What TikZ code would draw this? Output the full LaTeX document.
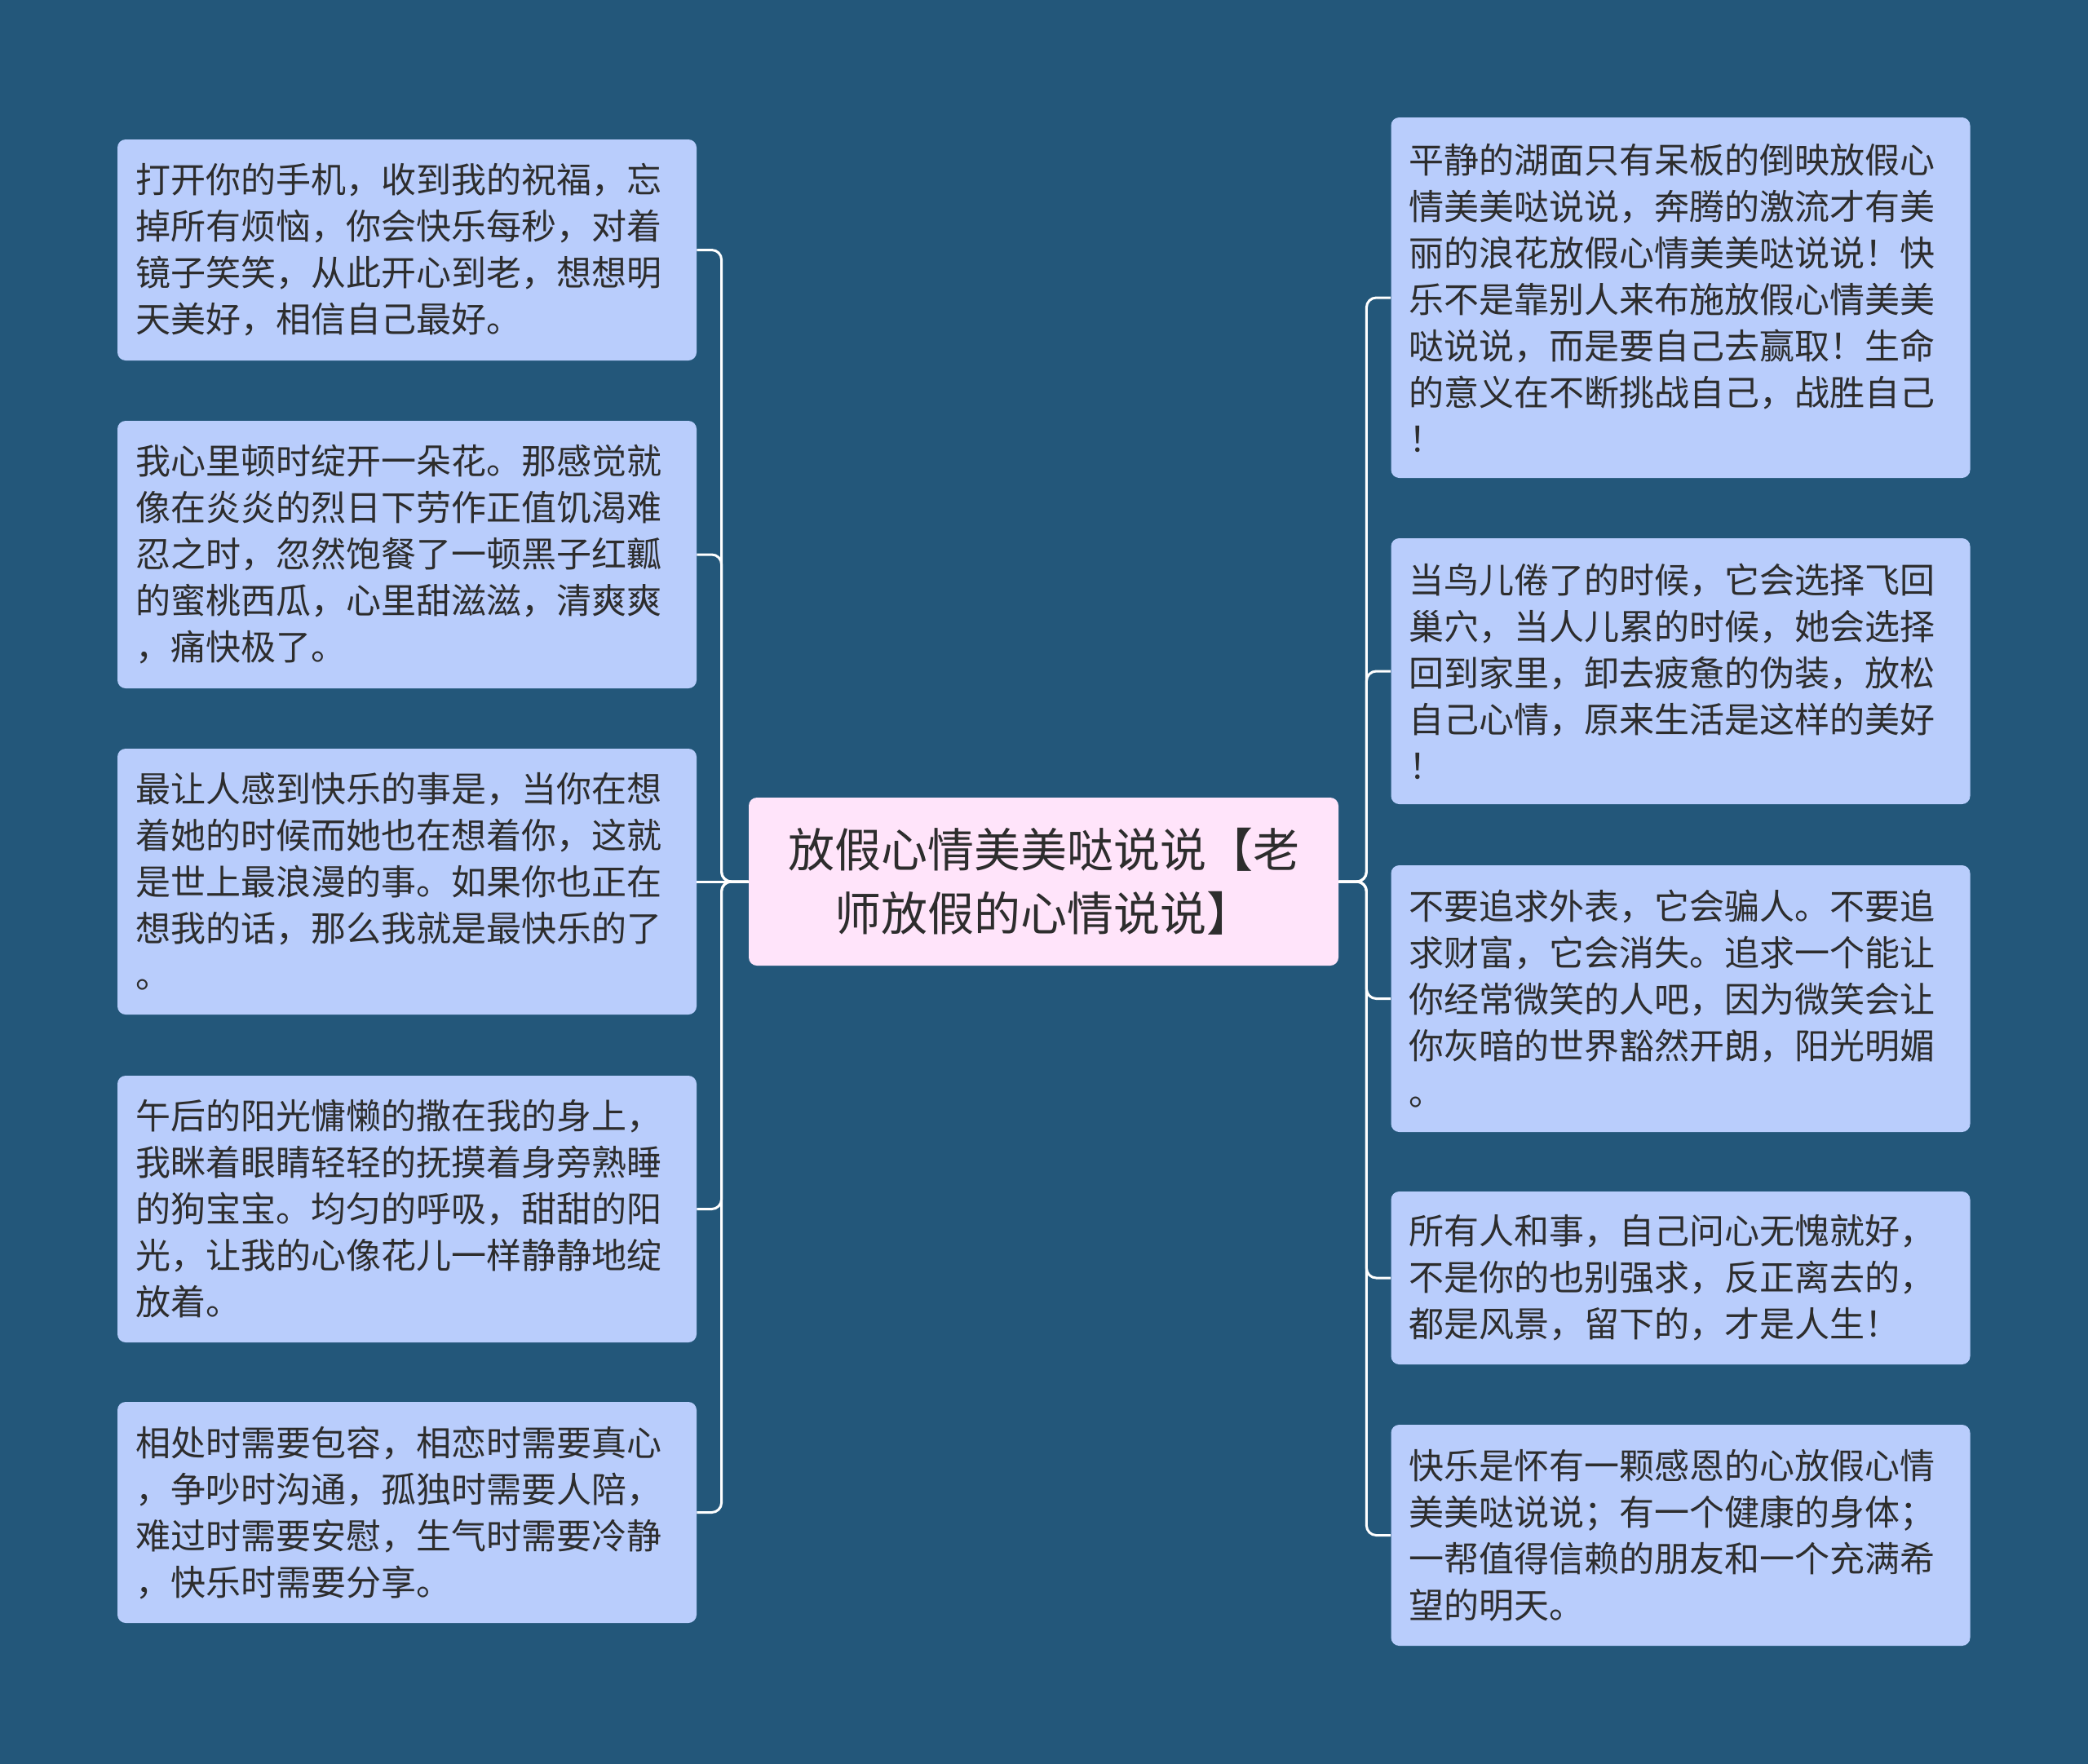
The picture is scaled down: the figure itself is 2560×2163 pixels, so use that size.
\documentclass[tikz,border=0pt]{standalone}
\usepackage{fontspec}
\newfontfamily\cjk{Noto Sans CJK SC}
\usetikzlibrary{calc}
\definecolor{bgblue}{RGB}{35,87,122}
\definecolor{leafblue}{RGB}{185,205,252}
\definecolor{hubpink}{RGB}{255,228,250}
\definecolor{inkgray}{RGB}{45,45,45}

\begin{document}
\begin{tikzpicture}[x=0.5pt,y=-0.5pt,
    leafbox/.style={fill=leafblue, rounded corners=5pt, text=inkgray,
        inner xsep=11pt, inner ysep=0pt, text width=333pt, align=left,
        font=\cjk\fontsize{21.5pt}{28.5pt}\selectfont},
    hubbox/.style={fill=hubpink, rounded corners=5pt, text=inkgray,
        inner xsep=14pt, inner ysep=0pt, text width=333.5pt, align=center,
        minimum height=103pt, font=\cjk\fontsize{28.5pt}{39pt}\selectfont},
    link/.style={draw=white, line width=1.5pt, rounded corners=6pt}]
    % canvas
    \fill[bgblue] (0,0) rectangle (2560,2163);
    \useasboundingbox (0,0) rectangle (2560,2163);

    \node[hubbox] (hub) at (1279.5,1081) {放假心情美美哒说说【老\\师放假的心情说说】};

    % left column
    \node[leafbox, minimum height=135.5pt] (l1) at (499,306.5)
        {打开你的手机，收到我的祝福，忘\\掉所有烦恼，你会快乐每秒，对着\\镜子笑笑，从此开心到老，想想明\\天美好，相信自己最好。};
    \node[leafbox, minimum height=164pt] (l2) at (499,680)
        {我心里顿时绽开一朵花。那感觉就\\像在炎炎的烈日下劳作正值饥渴难\\忍之时，忽然饱餐了一顿黑子红瓤\\的蜜桃西瓜，心里甜滋滋，清爽爽\\，痛快极了。};
    \node[leafbox, minimum height=163pt] (l3) at (499,1081)
        {最让人感到快乐的事是，当你在想\\着她的时候而她也在想着你，这就\\是世上最浪漫的事。如果你也正在\\想我的话，那么我就是最快乐的了\\。};
    \node[leafbox, minimum height=163.5pt] (l4) at (499,1482.5)
        {午后的阳光慵懒的撒在我的身上，\\我眯着眼睛轻轻的抚摸着身旁熟睡\\的狗宝宝。均匀的呼吸，甜甜的阳\\光，让我的心像花儿一样静静地绽\\放着。};
    \node[leafbox, minimum height=135.5pt] (l5) at (499,1854.5)
        {相处时需要包容，相恋时需要真心\\，争吵时沟通，孤独时需要人陪，\\难过时需要安慰，生气时需要冷静\\，快乐时需要分享。};

    % right column
    \node[leafbox, minimum height=221pt] (r1) at (2060.5,365)
        {平静的湖面只有呆板的倒映放假心\\情美美哒说说，奔腾的激流才有美\\丽的浪花放假心情美美哒说说！快\\乐不是靠别人来布施放假心情美美\\哒说说，而是要自己去赢取！生命\\的意义在不断挑战自己，战胜自己\\！};
    \node[leafbox, minimum height=163pt] (r2) at (2060.5,823)
        {当鸟儿倦了的时候，它会选择飞回\\巢穴，当人儿累的时候，她会选择\\回到家里，卸去疲惫的伪装，放松\\自己心情，原来生活是这样的美好\\！};
    \node[leafbox, minimum height=163.5pt] (r3) at (2060.5,1224.5)
        {不要追求外表，它会骗人。不要追\\求财富，它会消失。追求一个能让\\你经常微笑的人吧，因为微笑会让\\你灰暗的世界豁然开朗，阳光明媚\\。};
    \node[leafbox, minimum height=106pt] (r4) at (2060.5,1567)
        {所有人和事，自己问心无愧就好，\\不是你的也别强求，反正离去的，\\都是风景，留下的，才是人生！};
    \node[leafbox, minimum height=135.5pt] (r5) at (2060.5,1882.5)
        {快乐是怀有一颗感恩的心放假心情\\美美哒说说；有一个健康的身体；\\一帮值得信赖的朋友和一个充满希\\望的明天。};

    % connectors
    \foreach \n in {l1,l2,l4,l5}
        \draw[link] (hub.west) -- ++(-33,0) |- (\n.east);
    \draw[link] (hub.west) -- (l3.east);
    \foreach \n in {r1,r2,r3,r4,r5}
        \draw[link] (hub.east) -- ++(34,0) |- (\n.west);
\end{tikzpicture}
\end{document}
